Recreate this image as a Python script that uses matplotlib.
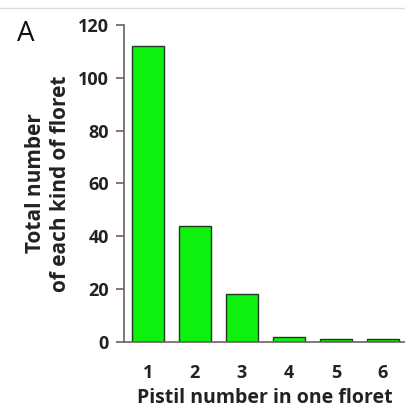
import matplotlib
matplotlib.use("Agg")
import matplotlib.pyplot as plt
from matplotlib.lines import Line2D

pistil_numbers = [1, 2, 3, 4, 5, 6]
floret_counts = [112, 44, 18, 2, 1, 1]
y_ticks = [0, 20, 40, 60, 80, 100, 120]

plt.rcParams['font.family'] = ['Open Sans', 'DejaVu Sans']

fig = plt.figure(figsize=(4.05, 4.07), dpi=100)
ax = fig.add_axes([0.306, 0.16, 0.694, 0.7786])

ax.bar(pistil_numbers, floret_counts, width=0.68, color='#0ef00e',
       edgecolor='#1e3a1e', linewidth=1.0, zorder=2)

ax.set_xlim(0.49, 6.47)
ax.set_ylim(0, 120)
ax.set_yticks(y_ticks)
ax.set_xticks(pistil_numbers)

spine_color = '#6e6060'
for side in ('top', 'right'):
    ax.spines[side].set_visible(False)
for side in ('left', 'bottom'):
    ax.spines[side].set_color(spine_color)
    ax.spines[side].set_linewidth(1.2)

ax.tick_params(axis='y', direction='out', length=6, width=1.2, color=spine_color,
               labelsize=13, pad=5)
ax.tick_params(axis='x', length=0, labelsize=13, pad=16)
for lab in ax.get_xticklabels() + ax.get_yticklabels():
    lab.set_fontweight('bold')
    lab.set_color('#222222')

ax.set_xlabel('Pistil number in one floret', fontsize=14, fontweight='bold',
              color='#222222', labelpad=4)
ax.set_ylabel('Total number\nof each kind of floret', fontsize=15, fontweight='bold',
              color='#222222', labelpad=5, linespacing=1.25)

fig.text(0.042, 0.95, 'A', fontsize=20, color='#111111', va='top', ha='left')

fig.add_artist(Line2D([0, 1], [0.981, 0.981], transform=fig.transFigure,
                      color='#dddddd', linewidth=1.0))

fig.savefig('out.png', dpi=100)
